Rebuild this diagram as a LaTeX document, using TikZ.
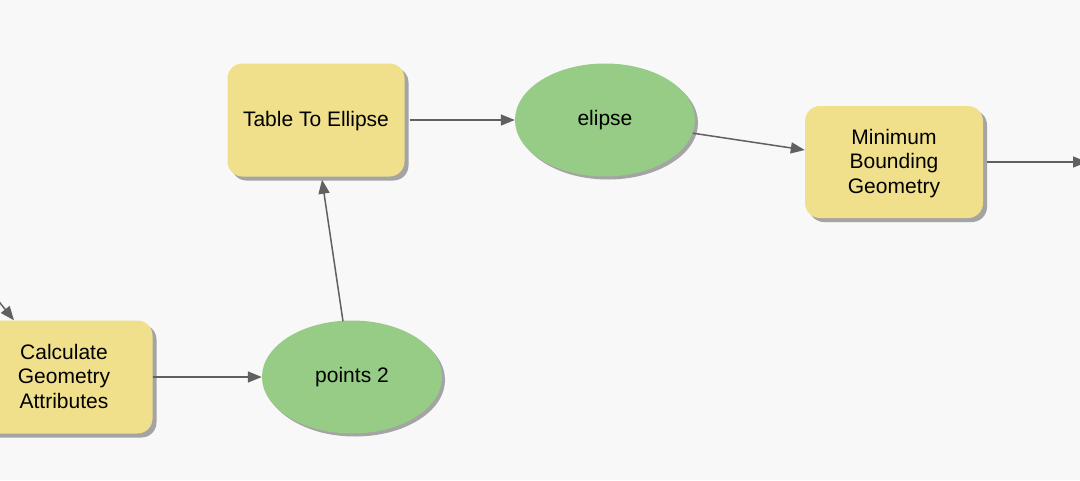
\documentclass[tikz,border=0pt]{standalone}
\usepackage{fontspec}
\setmainfont{Liberation Sans}
\usetikzlibrary{arrows.meta,shapes.geometric,shadows,calc}
\definecolor{bg}{HTML}{F8F8F8}
\definecolor{toolyellow}{HTML}{F0E08C}
\definecolor{datagreen}{HTML}{96CC86}
\definecolor{shadowgray}{HTML}{A4A4A4}
\definecolor{linegray}{HTML}{606060}
\tikzset{
  tool/.style={rectangle, rounded corners=15pt, fill=toolyellow, draw=none,
    minimum width=177pt, minimum height=113pt, align=center, font=\fontsize{21}{24.5}\selectfont,
    text depth=2pt,
    drop shadow={shadow xshift=4pt, shadow yshift=-4pt, fill=shadowgray, opacity=1}},
  data/.style={ellipse, fill=datagreen, draw=none, inner sep=0pt,
    minimum width=180pt, minimum height=113pt, align=center, font=\fontsize{21}{24.5}\selectfont,
    drop shadow={shadow xshift=3pt, shadow yshift=-3pt, fill=shadowgray, opacity=1}},
  conn/.style={draw=linegray, line width=1.5pt, -{Triangle[length=14pt,width=11pt]}}
}
\begin{document}
\begin{tikzpicture}[x=1pt,y=-1pt]
\fill[bg] (0,0) rectangle (1080,480);
\useasboundingbox (0,0) rectangle (1080,480);
\node[tool] (calc) at (64,377) {Calculate\\Geometry\\Attributes};
\node[data] (pts) at (352,377) {points 2};
\node[tool] (tte) at (316,120) {Table To Ellipse};
\node[data] (eli) at (605,120) {elipse};
\node[tool, minimum width=178pt, minimum height=112pt] (mbg) at (894,162) {Minimum\\Bounding\\Geometry};
\coordinate (inc) at (-12,288);
\coordinate (out) at (1087,162);
\coordinate (calctop) at ($(calc.north)+(-50,0)$);
\coordinate (ptstop) at ($(pts.north)+(-9,1)$);
\coordinate (ttebot) at ($(tte.south)+(6,3)$);
\coordinate (mbgin) at ($(mbg.west)+(0,-12)$);
\draw[conn] (inc) -- (calctop);
\draw[conn] (calc.east) -- (pts.west);
\draw[conn] (ptstop) -- (ttebot);
\draw[conn] ($(tte.east)+(5,0)$) -- (eli.west);
\draw[conn] (eli) -- (mbgin);
\draw[conn] ($(mbg.east)+(4,0)$) -- (out);
\end{tikzpicture}
\end{document}
